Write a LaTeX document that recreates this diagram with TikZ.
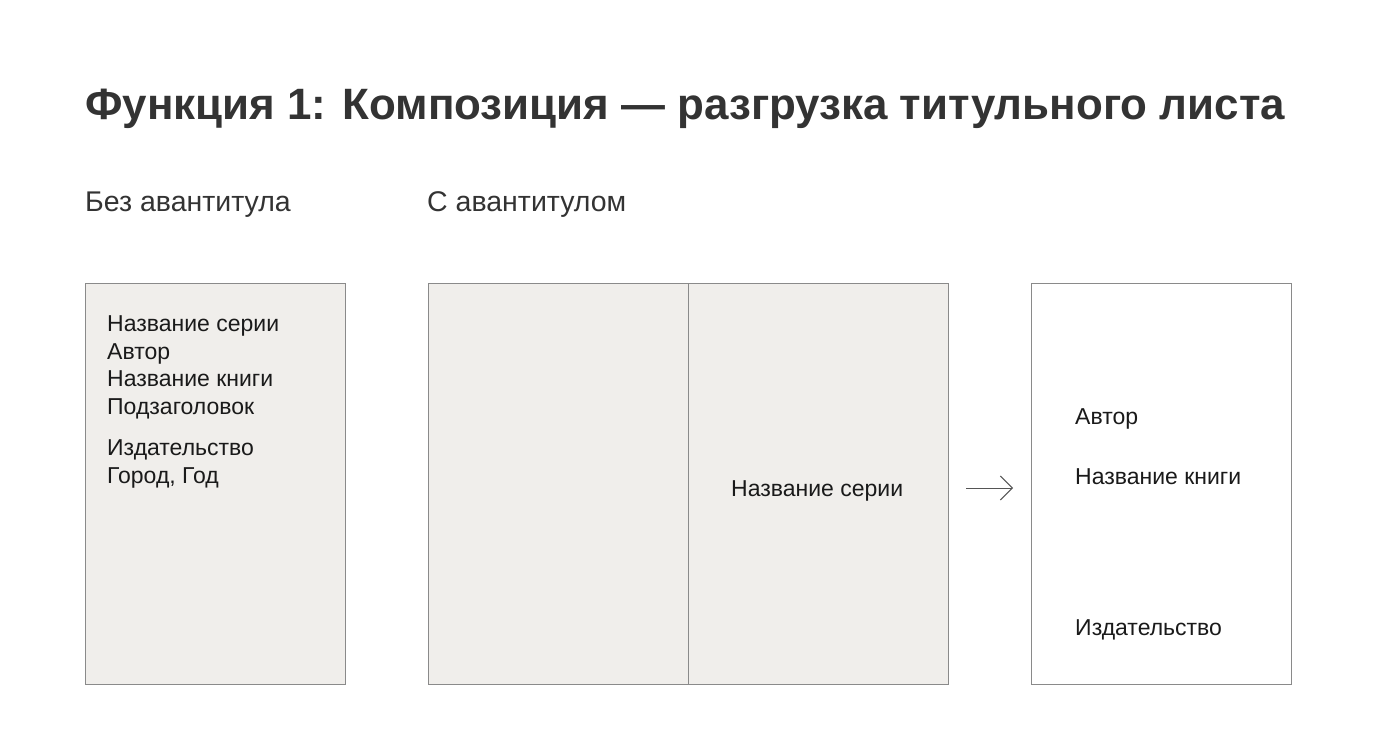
\documentclass[tikz,border=0pt]{standalone}
\usepackage{fontspec}
\setmainfont{Liberation Sans}
\usetikzlibrary{arrows.meta}
\definecolor{pagefill}{HTML}{F0EEEB}
\definecolor{pageline}{HTML}{8A8A8A}
\definecolor{titlecol}{HTML}{333333}
\definecolor{textcol}{HTML}{1A1A1A}
\definecolor{arrowcol}{HTML}{555555}
\tikzset{
  page/.style={draw=pageline, line width=1pt, fill=pagefill},
  blankpage/.style={draw=pageline, line width=1pt, fill=white},
  lbl/.style={anchor=base west, inner sep=0pt, text=textcol, font=\fontsize{23}{27}\selectfont},
  sub/.style={anchor=base west, inner sep=0pt, text=titlecol, font=\fontsize{28.5}{32}\selectfont},
}
\begin{document}
\begin{tikzpicture}[x=1pt,y=-1pt]
\useasboundingbox[fill=white] (0,0) rectangle (1376,748);
\node[anchor=base west, inner sep=0pt, text=titlecol, font=\fontsize{43.9}{50}\selectfont\bfseries] (title) at (85,119) {Функция 1: Композиция — разгрузка титульного листа};
\node[sub] (s1) at (85,211) {Без авантитула};
\node[sub] (s2) at (427,211) {С авантитулом};
% page 1
\draw[page] (85,283) rectangle (345,684);
\node[lbl] (a1) at (107,331) {Название серии};
\node[lbl] (a2) at (107,359) {Автор};
\node[lbl] (a3) at (107,386) {Название книги};
\node[lbl] (a4) at (107,414) {Подзаголовок};
\node[lbl] (a5) at (107,455) {Издательство};
\node[lbl] (a6) at (107,483) {Город, Год};
% spread
\draw[page] (428,283) rectangle (948,684);
\draw[pageline, line width=1pt] (688,283) -- (688,684);
\node[lbl] (b1) at (731,496) {Название серии};
% arrow
\coordinate (ar1) at (966,488);
\coordinate (ar2) at (1013,488);
\draw[line width=1pt, draw=arrowcol, -{Straight Barb[length=12pt, width=24pt, line width=1pt]}] (ar1) -- (ar2);
% title page
\draw[blankpage] (1031,283) rectangle (1291,684);
\node[lbl] (c1) at (1075,424) {Автор};
\node[lbl] (c2) at (1075,484) {Название книги};
\node[lbl] (c3) at (1075,635) {Издательство};
\end{tikzpicture}
\end{document}
